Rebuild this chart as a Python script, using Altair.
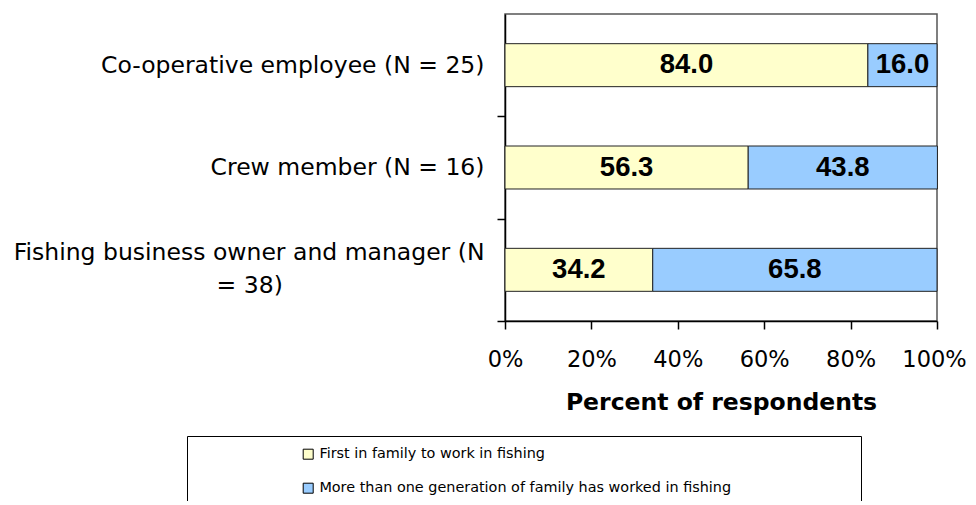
import altair as alt
import pandas as pd

categories = [
    "Co-operative employee (N = 25)",
    "Crew member (N = 16)",
    "Fishing business owner and manager (N = 38)",
]
series = [
    "First in family to work in fishing",
    "More than one generation of family has worked in fishing",
]
first_vals = [84.0, 56.3, 34.2]
more_vals = [16.0, 43.8, 65.8]
colors = ["#FFFFCC", "#99CCFF"]
x_ticks = [0, 20, 40, 60, 80, 100]

rows = []
for c, a, b in zip(categories, first_vals, more_vals):
    rows.append({"category": c, "series": series[0], "value": a, "order": 0})
    rows.append({"category": c, "series": series[1], "value": b, "order": 1})
df = pd.DataFrame(rows)

PLOT_H = 307
half_step = PLOT_H / len(categories) / 2

long_label = categories[2]
line1 = "Fishing business owner and manager (N"
line2 = "= 38)" + "\u00a0" * 27 + "\u200b"
label_expr = f"datum.value == '{long_label}' ? ['{line1}', '{line2}'] : datum.label"

y_axis = alt.Axis(
    title=None,
    labelFont="DejaVu Sans",
    labelFontSize=23.5,
    labelColor="black",
    labelPadding=13,
    labelLimit=700,
    labelLineHeight=33,
    labelExpr=label_expr,
    tickOffset=half_step,
    labelOffset={
        "condition": {"test": f"datum.value == '{long_label}'", "value": -17 - half_step},
        "value": -half_step,
    },
    tickSize=8,
    tickColor="black",
    tickWidth=1.5,
    domainColor="black",
    domainWidth=1.5,
    grid=False,
)
x_axis = alt.Axis(
    values=x_ticks,
    labelExpr="datum.value + '%'",
    title="Percent of respondents",
    labelFont="DejaVu Sans",
    labelFontSize=22.5,
    labelColor="black",
    labelPadding=19,
    labelOverlap=False,
    labelFlush=False,
    labelOffset={"condition": {"test": "datum.value == 100", "value": -3}, "value": 0},
    tickSize=8,
    tickColor="black",
    tickWidth=1.5,
    domainColor="black",
    domainWidth=1.5,
    grid=False,
    titleFont="DejaVu Sans",
    titleFontSize=23.5,
    titleFontWeight="bold",
    titleColor="black",
    titlePadding=20,
)
y_scale = alt.Scale(paddingInner=0.58, paddingOuter=0.29)
x_scale = alt.Scale(domain=[0, 100], nice=False)

base = alt.Chart(df)

bars = base.mark_bar(stroke="#222222", strokeWidth=1).encode(
    y=alt.Y("category:N", sort=categories, scale=y_scale, axis=y_axis),
    x=alt.X("value:Q", stack="zero", scale=x_scale, axis=x_axis),
    color=alt.Color(
        "series:N",
        sort=series,
        scale=alt.Scale(domain=series, range=colors),
        legend=alt.Legend(
            orient="none",
            legendX=-318,
            legendY=422,
            direction="vertical",
            title="\u00a0",
            titleOrient="right",
            titlePadding=119,
            titleFontSize=15,
            padding=11,
            strokeColor="black",
            fillColor="white",
            symbolType="square",
            symbolSize=100,
            symbolStrokeColor="black",
            symbolStrokeWidth=1,
            symbolOffset=103,
            labelOffset=4,
            labelFont="DejaVu Sans",
            labelFontSize=14.4,
            labelColor="black",
            rowPadding=18,
            labelLimit=700,
        ),
    ),
    order=alt.Order("order:Q"),
)

text = (
    base.transform_stack(
        stack="value",
        groupby=["category"],
        as_=["x0", "x1"],
        sort=[alt.SortField("order")],
    )
    .transform_calculate(mid="(datum.x0 + datum.x1) / 2")
    .mark_text(font="Liberation Sans", fontWeight="bold", fontSize=27.5, color="black", baseline="middle")
    .encode(
        y=alt.Y("category:N", sort=categories, scale=y_scale, axis=y_axis),
        x=alt.X("mid:Q", scale=x_scale, axis=x_axis),
        text=alt.Text("value:Q", format=".1f"),
    )
)

chart = (
    alt.layer(bars, text)
    .properties(
        width=432,
        height=PLOT_H,
        padding={"left": 497, "top": 6, "right": 31, "bottom": 180},
        autosize=alt.AutoSizeParams(type="none"),
        background="white",
    )
    .configure_view(stroke="#555555", strokeWidth=1.5)
)

chart.save("out.html", embed_options={"renderer": "svg", "actions": False})
